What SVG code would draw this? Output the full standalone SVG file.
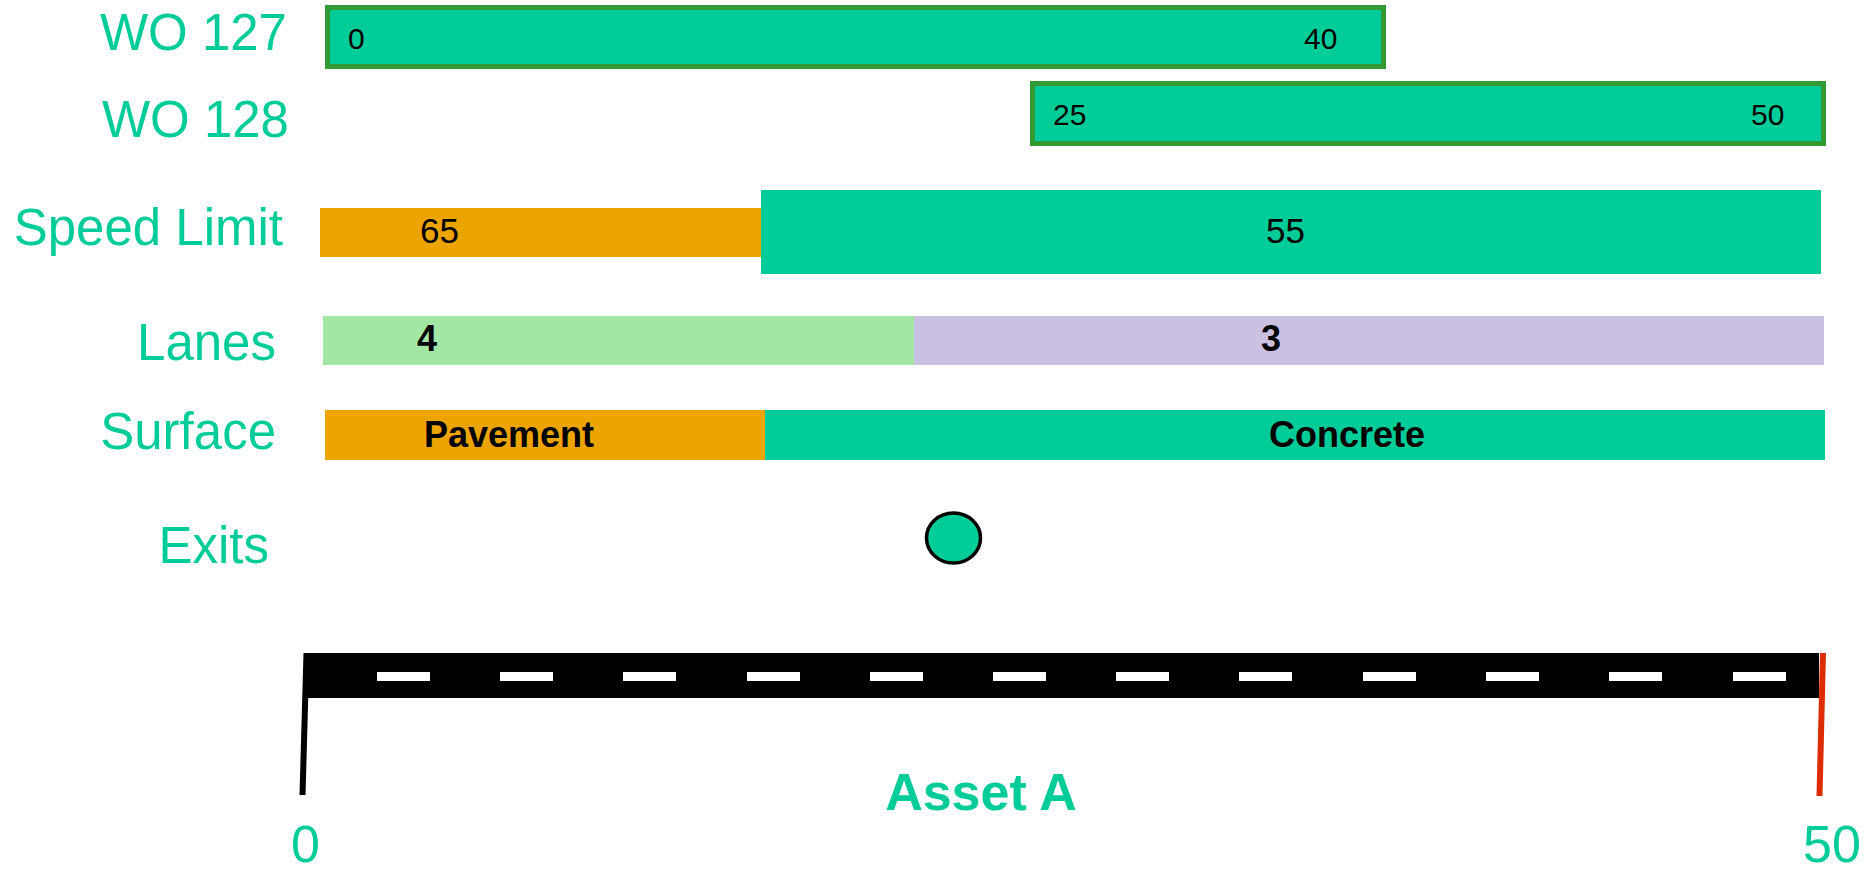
<svg xmlns="http://www.w3.org/2000/svg" width="1874" height="874" viewBox="0 0 1874 874">
<style>
.lbl{font-family:"Liberation Sans",Arial,sans-serif;font-size:51px;fill:#00CC99;text-anchor:end}
.num{font-family:"Liberation Sans",Arial,sans-serif;font-size:30px;fill:#000}
.num2{font-family:"Liberation Sans",Arial,sans-serif;font-size:35px;fill:#000}
.bold{font-family:"Liberation Sans",Arial,sans-serif;font-size:36px;font-weight:bold;fill:#000}
.axis{font-family:"Liberation Sans",Arial,sans-serif;font-size:52px;fill:#00CC99}
.teal{fill:#00CC99}
.orange{fill:#ECA400}
.wo{fill:#00CC99;stroke:#339933;stroke-width:5}
.dash{fill:#fff}
</style>
<rect width="1874" height="874" fill="#fff"/>
<g id="labels">
<text class="lbl" x="287" y="50">WO 127</text>
<text class="lbl" x="289" y="137">WO 128</text>
<text class="lbl" x="283" y="245">Speed Limit</text>
<text class="lbl" x="276" y="360">Lanes</text>
<text class="lbl" x="276" y="449">Surface</text>
<text class="lbl" x="269" y="563">Exits</text>
</g>
<g id="wo127">
<rect class="wo" x="327.5" y="7.5" width="1056" height="59"/>
<text class="num" x="348" y="49">0</text>
<text class="num" x="1304" y="49">40</text>
</g>
<g id="wo128">
<rect class="wo" x="1032.5" y="83.5" width="791" height="60"/>
<text class="num" x="1053" y="125">25</text>
<text class="num" x="1751" y="125">50</text>
</g>
<g id="speed65">
<rect class="orange" x="320" y="208" width="441" height="49"/>
<text class="num2" x="420" y="243">65</text>
</g>
<g id="speed55">
<rect class="teal" x="761" y="190" width="1060" height="84"/>
<text class="num2" x="1266" y="243">55</text>
</g>
<g id="lanes4">
<rect x="323" y="316" width="591" height="49" fill="#A3E7A5"/>
<text class="bold" x="417" y="351">4</text>
</g>
<g id="lanes3">
<rect x="914" y="316" width="910" height="49" fill="#CAC0E1"/>
<text class="bold" x="1261" y="351">3</text>
</g>
<g id="pavement">
<rect class="orange" x="325" y="410" width="440" height="50"/>
<text class="bold" x="424" y="447">Pavement</text>
</g>
<g id="concrete">
<rect class="teal" x="765" y="410" width="1060" height="50"/>
<text class="bold" x="1269" y="447">Concrete</text>
</g>
<g id="exit">
<ellipse cx="953.5" cy="538" rx="27" ry="25" fill="#00CC99" stroke="#000" stroke-width="3.5"/>
</g>
<g id="road">
<rect x="306" y="653" width="1513" height="45" fill="#000"/>
<rect class="dash" x="377" y="672" width="53" height="9"/>
<rect class="dash" x="500" y="672" width="53" height="9"/>
<rect class="dash" x="623" y="672" width="53" height="9"/>
<rect class="dash" x="747" y="672" width="53" height="9"/>
<rect class="dash" x="870" y="672" width="53" height="9"/>
<rect class="dash" x="993" y="672" width="53" height="9"/>
<rect class="dash" x="1116" y="672" width="53" height="9"/>
<rect class="dash" x="1239" y="672" width="53" height="9"/>
<rect class="dash" x="1363" y="672" width="53" height="9"/>
<rect class="dash" x="1486" y="672" width="53" height="9"/>
<rect class="dash" x="1609" y="672" width="53" height="9"/>
<rect class="dash" x="1733" y="672" width="53" height="9"/>
</g>
<g id="connectors">
<line x1="306.5" y1="653" x2="302.5" y2="795" stroke="#000" stroke-width="6"/>
<line x1="1823" y1="653" x2="1819.5" y2="796" stroke="#DD2C00" stroke-width="6"/>
</g>
<g id="axis">
<text class="axis" x="981" y="810" font-size="53" font-weight="bold" text-anchor="middle">Asset A</text>
<text class="axis" x="291" y="862">0</text>
<text class="axis" x="1803" y="862">50</text>
</g>
</svg>
